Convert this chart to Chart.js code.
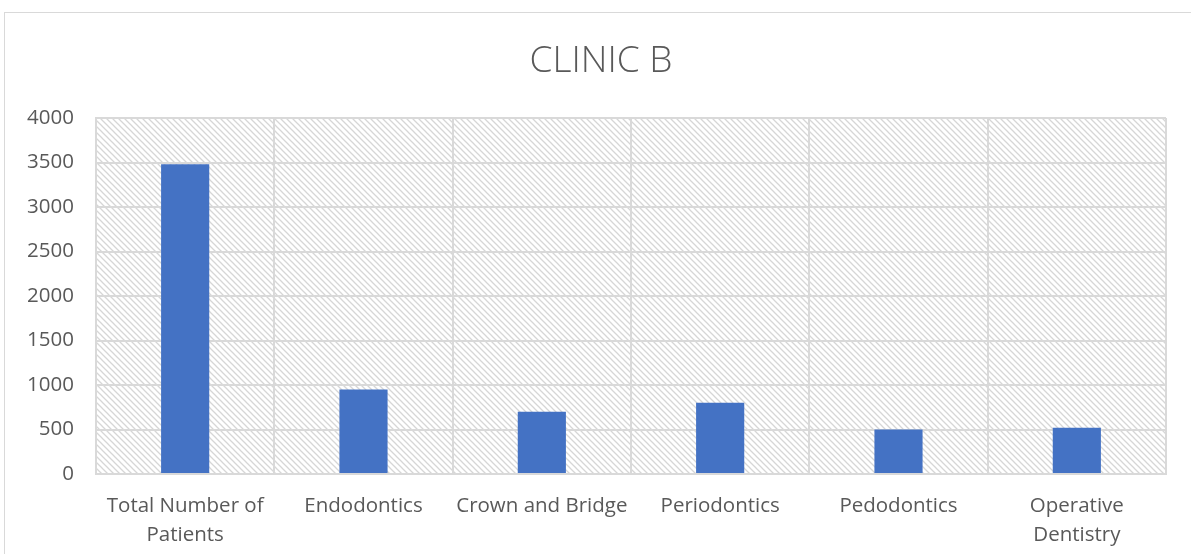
<!DOCTYPE html>
<html lang="en">
<head>
    <meta charset="UTF-8">
    <title>Clinic B</title>
    <script src="https://cdn.jsdelivr.net/npm/chart.js"></script>
    <style>
        body {
            margin: 0;
            padding: 0;
            background: #fff;
            width: 1191px;
            height: 554px;
            overflow: hidden;
            position: relative;
        }
        .frame {
            position: absolute;
            left: 4px;
            top: 12px;
            width: 1200px;
            height: 600px;
            border: 1px solid #d9d9d9;
        }
        .chart-box {
            position: absolute;
            left: 0;
            top: 0;
            width: 1191px;
            height: 554px;
        }
    </style>
</head>
<body>
    <div class="frame"></div>
    <div class="chart-box">
        <canvas id="barChart"></canvas>
    </div>

    <script>
        const chartTitle = 'CLINIC B';
        const categories = [['Total Number of', 'Patients'], 'Endodontics', 'Crown and Bridge', 'Periodontics', 'Pedodontics', ['Operative', 'Dentistry']];
        const patients = [3480, 950, 700, 800, 500, 520];
        const yTicks = [0, 500, 1000, 1500, 2000, 2500, 3000, 3500, 4000];

        const textColor = '#595959';
        const gridColor = '#d9d9d9';

        // diagonal hatch for the plot area
        function makeHatch() {
            const c = document.createElement('canvas');
            c.width = 6;
            c.height = 6;
            const g = c.getContext('2d');
            g.fillStyle = '#fff';
            g.fillRect(0, 0, 6, 6);
            g.strokeStyle = '#d6d6d6';
            g.lineWidth = 1.3;
            g.beginPath();
            g.moveTo(-1, -1); g.lineTo(7, 7);
            g.moveTo(-4, 2); g.lineTo(4, 10);
            g.moveTo(2, -4); g.lineTo(10, 4);
            g.stroke();
            return g.createPattern(c, 'repeat');
        }

        const hatchPlugin = {
            id: 'hatch',
            beforeDraw(chart) {
                const a = chart.chartArea;
                const ctx = chart.ctx;
                ctx.save();
                ctx.fillStyle = makeHatch();
                ctx.fillRect(a.left, a.top, a.right - a.left, a.bottom - a.top);
                ctx.restore();
            }
        };

        // title centred on the outer frame, not the plot
        const titlePlugin = {
            id: 'frameTitle',
            afterDraw(chart) {
                const ctx = chart.ctx;
                ctx.save();
                ctx.fillStyle = textColor;
                ctx.font = '300 37px "Open Sans"';
                ctx.textAlign = 'center';
                ctx.textBaseline = 'middle';
                ctx.fillText(chartTitle, 601, 61);
                ctx.restore();
            }
        };

        const ctx = document.getElementById('barChart').getContext('2d');
        const chart = new Chart(ctx, {
            type: 'bar',
            data: {
                labels: categories,
                datasets: [{
                    label: chartTitle,
                    data: patients,
                    backgroundColor: '#4472c4',
                    categoryPercentage: 1,
                    barPercentage: 0.27
                }]
            },
            options: {
                responsive: true,
                maintainAspectRatio: false,
                animation: false,
                layout: { padding: { left: 0, right: 25, top: 118, bottom: 0 } },
                plugins: {
                    legend: { display: false },
                    tooltip: { enabled: false },
                    title: { display: false }
                },
                scales: {
                    x: {
                        grid: { color: gridColor, lineWidth: 2, offset: true, drawTicks: false },
                        border: { color: gridColor, width: 2 },
                        ticks: {
                            color: textColor,
                            font: { family: 'Open Sans', size: 20.5, lineHeight: 1.45 },
                            padding: 17,
                            maxRotation: 0,
                            autoSkip: false
                        },
                        afterFit(scale) { scale.height = 80; }
                    },
                    y: {
                        min: 0,
                        max: 4000,
                        afterBuildTicks(scale) { scale.ticks = yTicks.map(v => ({ value: v })); },
                        grid: { color: gridColor, lineWidth: 2, drawTicks: false },
                        border: { color: gridColor, width: 2 },
                        ticks: {
                            color: textColor,
                            font: { family: 'Open Sans', size: 20.5 },
                            padding: 22,
                            callback: v => String(v)
                        },
                        afterFit(scale) { scale.width = 96; }
                    }
                }
            },
            plugins: [hatchPlugin, titlePlugin]
        });
    </script>
</body>
</html>
